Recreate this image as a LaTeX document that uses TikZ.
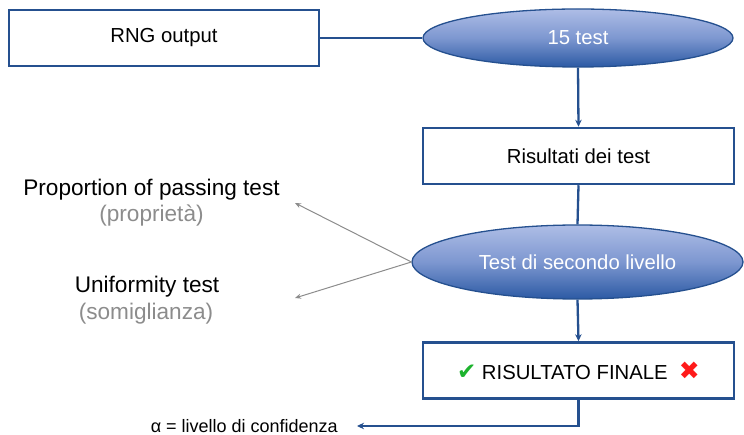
\documentclass[tikz,border=0pt]{standalone}
\usepackage{fontspec}
\setmainfont{Liberation Sans}
\newfontfamily\symfont{DejaVu Sans}
\usetikzlibrary{shapes.geometric,arrows.meta}

\definecolor{frameblue}{HTML}{25508F}
\definecolor{shadetop}{HTML}{AEBDE6}
\definecolor{shademid}{HTML}{7D97D0}
\definecolor{shadebot}{HTML}{2C5AA4}
\definecolor{softgray}{HTML}{8C8C8C}
\definecolor{okgreen}{HTML}{1DB32E}
\definecolor{nored}{HTML}{FF1A1A}

\tikzset{
  flowbox/.style={draw=frameblue, line width=2.5pt, fill=white, rectangle,
    minimum width=310pt, minimum height=56pt, inner sep=0pt,
    font=\fontsize{20.3}{24}\selectfont},
  flowoval/.style={draw=frameblue, line width=1.3pt, ellipse, inner sep=0pt,
    top color=shadetop, bottom color=shadebot, middle color=shademid,
    text=white, font=\fontsize{20.3}{24}\selectfont},
  link/.style={draw=frameblue, line width=2.3pt},
  linkarrow/.style={link, -{Stealth[length=7pt,width=6.5pt]}},
  grayarrow/.style={draw=softgray, line width=1pt, -{Stealth[length=6pt,width=5pt]}},
  sidetext/.style={font=\fontsize{22.6}{26}\selectfont, inner sep=0pt},
  sidenote/.style={sidetext, text=softgray},
}

\begin{document}
\begin{tikzpicture}[x=1pt,y=-1pt]
  \useasboundingbox (0,0) rectangle (744,435);

  % main flow
  \node[flowbox] (rng) at (164,38) {RNG output};
  \node[flowoval, minimum width=310pt, minimum height=58pt] (t15) at (578,38) {15 test};
  \node[flowbox, minimum width=311pt] (ris) at (578.5,156) {Risultati dei test};
  \node[flowoval, minimum width=331pt, minimum height=74pt] (t2) at (577.5,262) {Test di secondo livello};
  \node[flowbox, minimum width=311pt] (fin) at (578.5,370.5)
    {{\symfont\color{okgreen}\fontsize{23}{24}\selectfont ✔}\ RISULTATO FINALE\ \ {\symfont\color{nored}\fontsize{25}{24}\selectfont ✖}};

  % result text
  \node[font=\fontsize{18}{22}\selectfont, anchor=east, inner sep=0pt] (alpha) at (338,426)
    {α = livello di confidenza};
  \coordinate (corner) at (578.5,426);
  \coordinate (alphaend) at (357,426);

  % connectors
  \draw[link] (rng.east) -- (t15.west);
  \draw[linkarrow] (t15.south) -- (ris.north);
  \draw[link] (ris.south) -- (t2.north);
  \draw[linkarrow] (t2.south) -- (fin.north);
  \draw[linkarrow] (fin.south) -- (corner) -- (alphaend);

  % second level tests
  \node[sidetext] (prop) at (151.5,190) {Proportion of passing test};
  \node[sidenote] (propnote) at (151.5,216) {(proprietà)};
  \node[sidetext] (unif) at (147,287) {Uniformity test};
  \node[sidenote] (unifnote) at (146,314) {(somiglianza)};
  \coordinate (proptip) at (295,203);
  \coordinate (uniftip) at (295,298);
  \draw[grayarrow] (t2.west) -- (proptip);
  \draw[grayarrow] (t2.west) -- (uniftip);
\end{tikzpicture}
\end{document}
